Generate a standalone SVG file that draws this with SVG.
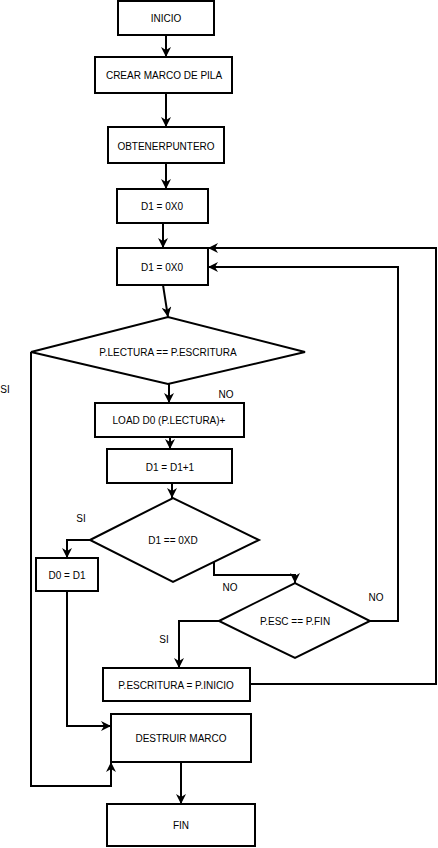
<svg xmlns="http://www.w3.org/2000/svg" width="438" height="848" viewBox="0 0 438 848">
<style>
.box{fill:#fff;stroke:#000;stroke-width:2}
.t{font-family:"Liberation Sans",Arial,sans-serif;font-size:10px;fill:#000;text-anchor:middle;dominant-baseline:central}
.lbl{font-family:"Liberation Sans",Arial,sans-serif;font-size:10px;fill:#000;text-anchor:middle;dominant-baseline:central}
.c{fill:none;stroke:#000;stroke-width:2;marker-end:url(#ah)}
.cn{fill:none;stroke:#000;stroke-width:2}
</style>
<defs>
<marker id="ah" viewBox="0 0 10 10" refX="10" refY="5" markerWidth="10" markerHeight="10" markerUnits="userSpaceOnUse" orient="auto">
<path d="M0,0 L10,5 L0,10 L3,5 z" fill="#000"/>
</marker>
</defs>
<rect width="438" height="848" fill="#fff"/>
<g id="connectors">
<path class="c" d="M166,35 V57"/>
<path class="c" d="M166,93 V127"/>
<path class="c" d="M166,163 V189"/>
<path class="c" d="M163,223 V248"/>
<path class="c" d="M163,285 L168,317"/>
<path class="c" d="M169,384 V403"/>
<path class="c" d="M170,437 V449"/>
<path class="c" d="M172,483 V498"/>
<path class="c" d="M90,540 H67 V558"/>
<path class="c" d="M214,561 V575 H295 V583"/>
<path class="c" d="M219,621 H179 V668"/>
<path class="c" d="M370,621 H398 V267 H208"/>
<path class="c" d="M250,684 H436 V248 H208"/>
<path class="c" d="M67,591 V726 H111"/>
<path class="c" d="M31,352 V786 H111 V762"/>
<path class="c" d="M181,762 V804"/>
</g>
<g id="labels">
<text class="lbl" x="5" y="389">SI</text>
<text class="lbl" x="226" y="394">NO</text>
<text class="lbl" x="81" y="518">SI</text>
<text class="lbl" x="230" y="587">NO</text>
<text class="lbl" x="376" y="597">NO</text>
<text class="lbl" x="164" y="639">SI</text>
</g>
<g id="inicio"><rect class="box" x="118" y="1" width="96" height="34"/><text class="t" x="166" y="18">INICIO</text></g>
<g id="crear"><rect class="box" x="95" y="57" width="137" height="36"/><text class="t" x="164" y="75">CREAR MARCO DE PILA</text></g>
<g id="obtener"><rect class="box" x="108" y="127" width="116" height="36"/><text class="t" x="166" y="146">OBTENERPUNTERO</text></g>
<g id="d1a"><rect class="box" x="117" y="189" width="91" height="34"/><text class="t" x="162" y="206">D1 = 0X0</text></g>
<g id="d1b"><rect class="box" x="117" y="248" width="91" height="37"/><text class="t" x="162" y="267">D1 = 0X0</text></g>
<g id="dec1"><polygon class="box" points="31,352 168,317 305,352 168,384"/><text class="t" x="168" y="352">P.LECTURA == P.ESCRITURA</text></g>
<g id="load"><rect class="box" x="95" y="403" width="149" height="34"/><text class="t" x="169" y="420">LOAD D0 (P.LECTURA)+</text></g>
<g id="inc"><rect class="box" x="107" y="449" width="125" height="34"/><text class="t" x="170" y="467">D1 = D1+1</text></g>
<g id="dec2"><polygon class="box" points="90,540 173,498 259,540 173,582"/><text class="t" x="173" y="540">D1 == 0XD</text></g>
<g id="d0"><rect class="box" x="36" y="558" width="62" height="33"/><text class="t" x="67" y="575">D0 = D1</text></g>
<g id="dec3"><polygon class="box" points="219,621 295,583 370,621 295,658"/><text class="t" x="295" y="621">P.ESC == P.FIN</text></g>
<g id="pesc"><rect class="box" x="103" y="668" width="147" height="33"/><text class="t" x="176" y="685">P.ESCRITURA = P.INICIO</text></g>
<g id="destruir"><rect class="box" x="111" y="714" width="140" height="48"/><text class="t" x="181" y="738">DESTRUIR MARCO</text></g>
<g id="fin"><rect class="box" x="107" y="804" width="148" height="42"/><text class="t" x="181" y="825">FIN</text></g>
</svg>
